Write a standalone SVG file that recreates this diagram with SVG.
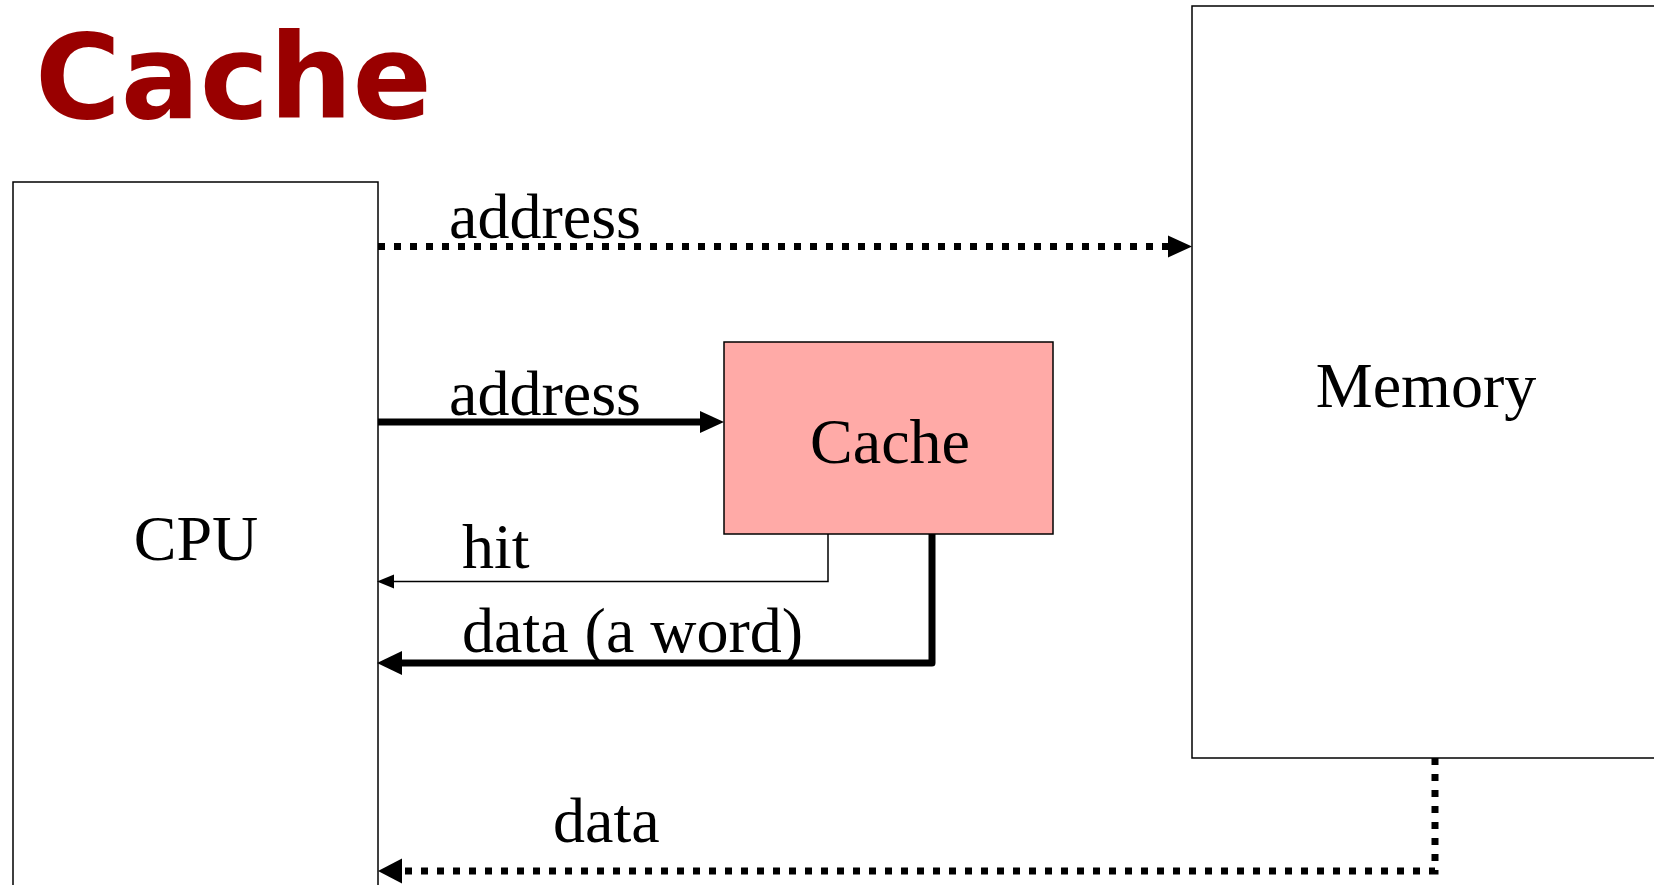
<svg xmlns="http://www.w3.org/2000/svg" width="1654" height="885" viewBox="0 0 1654 885">
<style>
.box{fill:#fff;stroke:#000;stroke-width:1.5}
.lbl{font-family:"Liberation Serif","Times New Roman",serif;font-size:64px;fill:#000}
.dot{fill:none;stroke:#000;stroke-width:7;stroke-dasharray:7 9}
.thick{fill:none;stroke:#000;stroke-width:7;stroke-linejoin:round}
.thin{fill:none;stroke:#000;stroke-width:1.5}
</style>
<rect width="1654" height="885" fill="#fff"/>
<text x="35" y="118" font-family="DejaVu Sans, Verdana, sans-serif" font-weight="bold" font-size="117" fill="#990000">Cache</text>
<g id="cpu">
<rect class="box" x="13" y="182" width="365" height="760"/>
<text class="lbl" x="196" y="560" text-anchor="middle">CPU</text>
</g>
<g id="memory">
<rect class="box" x="1192" y="6" width="520" height="752"/>
<text class="lbl" x="1426" y="407" text-anchor="middle">Memory</text>
</g>
<g id="cache">
<rect x="724" y="342" width="329" height="192" fill="#ffaaa7" stroke="#000" stroke-width="1.5"/>
<text class="lbl" x="890" y="463" text-anchor="middle">Cache</text>
</g>
<g id="connectors">
<line class="dot" x1="378" y1="246.5" x2="1169" y2="246.5"/>
<polygon points="1192,246.5 1168,235.5 1168,257.5"/>
<text class="lbl" x="449" y="238">address</text>
<line class="thick" x1="378" y1="422" x2="702" y2="422"/>
<polygon points="724,422 700,411 700,433"/>
<text class="lbl" x="449" y="415">address</text>
<polyline class="thin" points="828,534 828,581.5 390,581.5"/>
<polygon points="377,581.5 394,574.5 394,588.5"/>
<text class="lbl" x="462" y="568">hit</text>
<polyline class="thick" points="932,534 932,663 398,663"/>
<polygon points="377,663 402,651 402,675"/>
<text class="lbl" x="462" y="652">data (a word)</text>
<polyline class="dot" points="1435,758 1435,871 400,871"/>
<polygon points="378,871 402,858.5 402,883.5"/>
<text class="lbl" x="553" y="842">data</text>
</g>
</svg>
